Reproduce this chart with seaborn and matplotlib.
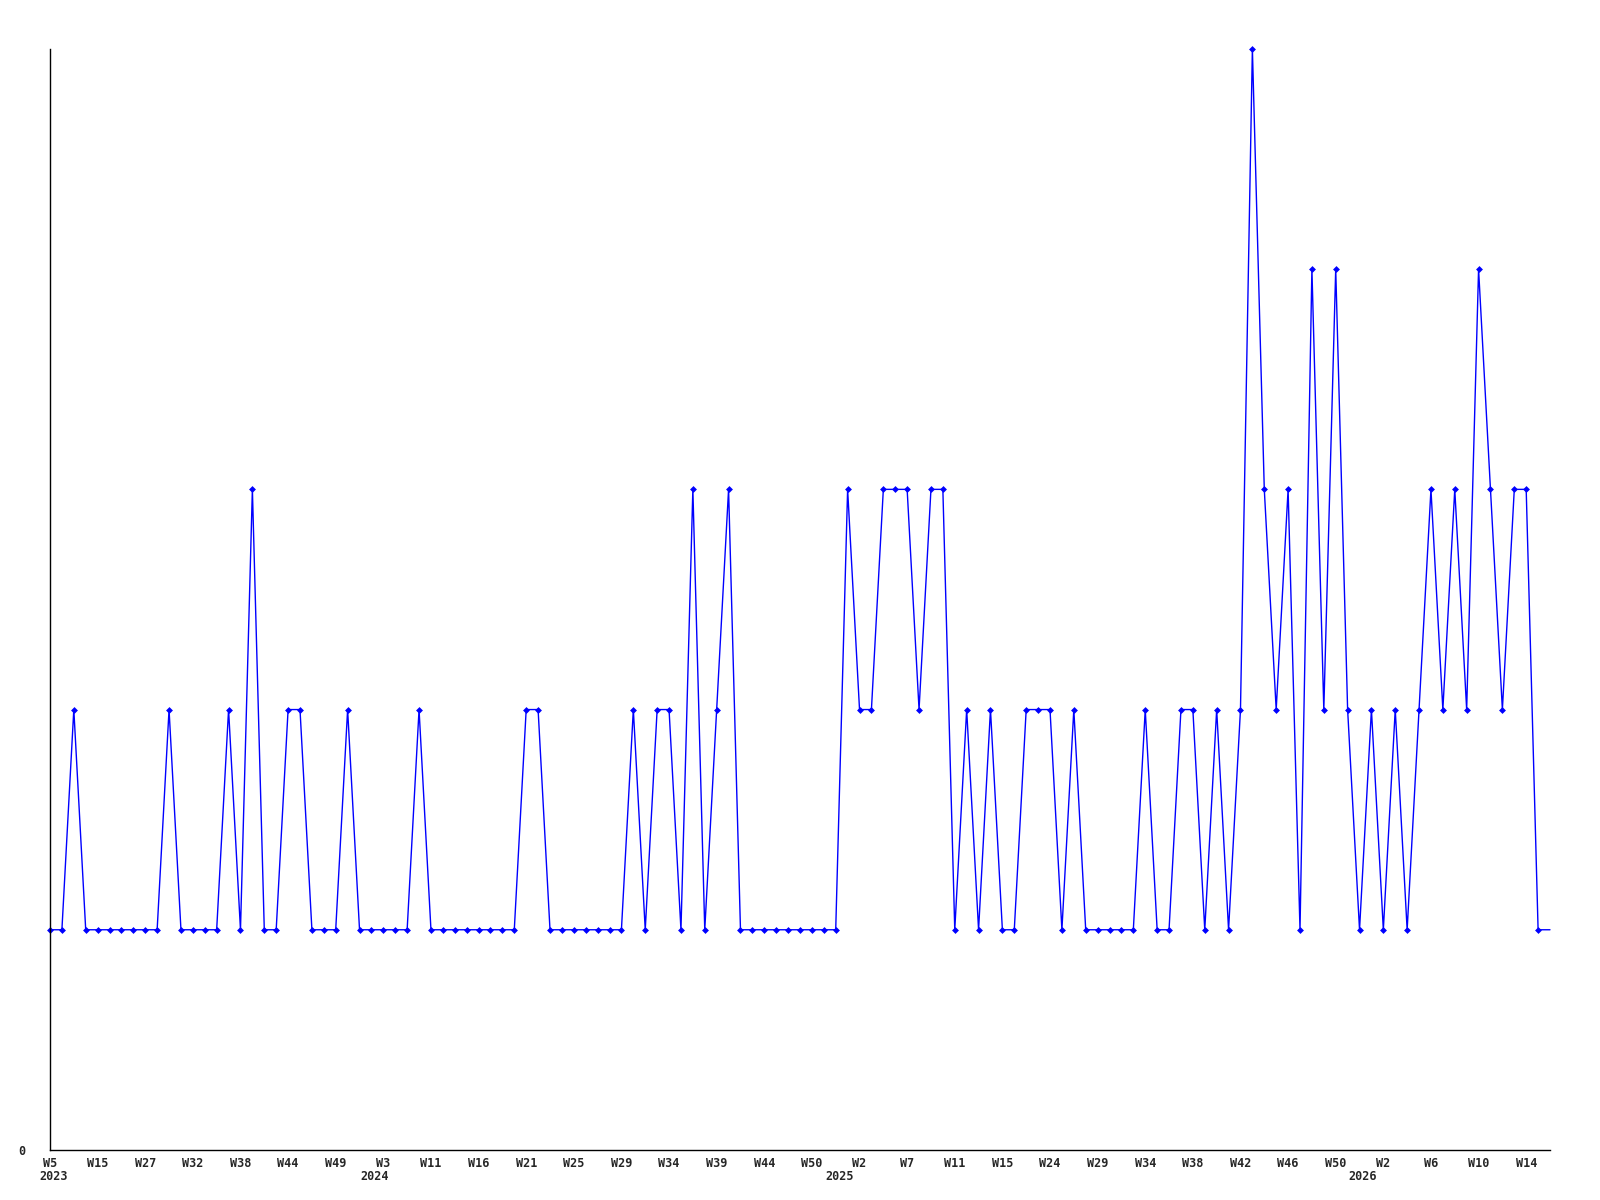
import numpy as np
import pandas as pd
import matplotlib
matplotlib.use("Agg")
import matplotlib.pyplot as plt
import seaborn as sns

# weekly counts, one value per plotted week (last one sits on the right edge)
values = [
    1, 1, 2, 1, 1, 1, 1, 1, 1, 1,
    2, 1, 1, 1, 1, 2, 1, 3, 1, 1,
    2, 2, 1, 1, 1, 2, 1, 1, 1, 1,
    1, 2, 1, 1, 1, 1, 1, 1, 1, 1,
    2, 2, 1, 1, 1, 1, 1, 1, 1, 2,
    1, 2, 2, 1, 3, 1, 2, 3, 1, 1,
    1, 1, 1, 1, 1, 1, 1, 3, 2, 2,
    3, 3, 3, 2, 3, 3, 1, 2, 1, 2,
    1, 1, 2, 2, 2, 1, 2, 1, 1, 1,
    1, 1, 2, 1, 1, 2, 2, 1, 2, 1,
    2, 5, 3, 2, 3, 1, 4, 2, 4, 2,
    1, 2, 1, 2, 1, 2, 3, 2, 3, 2,
    4, 3, 2, 3, 3, 1, 1,
]

# labelled weeks (every 4th point)
week_labels = [
    "W5", "W15", "W27", "W32", "W38", "W44", "W49", "W3",
    "W11", "W16", "W21", "W25", "W29", "W34", "W39", "W44",
    "W50", "W2", "W7", "W11", "W15", "W24", "W29", "W34",
    "W38", "W42", "W46", "W50", "W2", "W6", "W10", "W14",
]
label_step = 4

years = ["2023", "2024", "2025", "2026"]
year_start = [0, 27, 66, 110]

df = pd.DataFrame({"week": np.arange(len(values)), "count": values})
n_marked = len(values) - 1

sns.set_style("white")
plt.rcParams["font.family"] = ["DejaVu Sans Mono", "DejaVu Sans"]

fig = plt.figure(figsize=(16, 12), dpi=100)
ax = fig.add_axes([0.03125, 0.0417, 0.9375, 0.9175])

sns.lineplot(data=df, x="week", y="count", ax=ax, color="#0000ff",
             linewidth=1, marker="D", markersize=3.5, markeredgewidth=0,
             markevery=list(range(n_marked)), clip_on=False)

ax.set_xlim(0, len(values) - 1)
ax.set_ylim(0, 5)

ax.set_xticks(np.arange(0, label_step * len(week_labels), label_step))
ax.set_xticklabels(week_labels, fontsize=8.5, fontweight="bold")
ax.set_yticks([0])
ax.set_yticklabels(["0"], fontsize=8.5, fontweight="bold")
ax.tick_params(axis="x", length=0, pad=5)
ax.tick_params(axis="y", length=0, pad=18)

# year captions sit a little right of the first week of each year
for yr, pos in zip(years, year_start):
    ax.text(pos + 0.3, -0.0245, yr, transform=ax.get_xaxis_transform(),
            ha="center", va="center", fontsize=8.5, fontweight="bold")

ax.set_xlabel("")
ax.set_ylabel("")
for side in ["top", "right"]:
    ax.spines[side].set_visible(False)
for side in ["left", "bottom"]:
    ax.spines[side].set_color("black")
    ax.spines[side].set_linewidth(1)

fig.savefig("out.png", dpi=100)
